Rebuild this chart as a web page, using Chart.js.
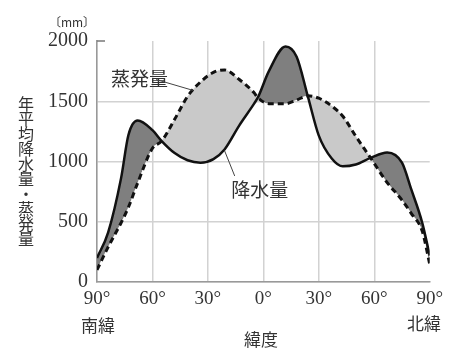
<!DOCTYPE html>
<html>
<head>
<meta charset="utf-8">
<script src="https://cdn.jsdelivr.net/npm/chart.js@4"></script>
<style>
  body { margin: 0; background: #fff; }
  #wrap { width: 449px; height: 349px; }
</style>
</head>
<body>
<div id="wrap"><canvas id="kikou"></canvas></div>
<script>
        // 緯度（南緯はマイナス）
        const latitudes = [-90, -84, -77, -73, -68, -60, -55, -48, -41, -34, -27, -21, -13, -5, -3,
                           3, 12, 18, 24, 30, 37, 43, 50, 58, 67, 75, 80, 86, 90];
        // 年平均降水量 (mm)
        const precipitation = [200, 410, 860, 1220, 1340, 1260, 1170, 1070, 1010, 990, 1020, 1100, 1300, 1480, 1530,
                               1750, 1955, 1870, 1545, 1215, 1025, 960, 975, 1030, 1075, 990, 770, 490, 220];
        // 年平均蒸発量 (mm)
        const evaporation = [100, 290, 490, 620, 822, 1110, 1170, 1350, 1540, 1660, 1740, 1760, 1680, 1570, 1530,
                             1480, 1480, 1510, 1545, 1525, 1460, 1375, 1210, 1030, 825, 680, 570, 420, 150];

        const xTickLabels = ['90°', '60°', '30°', '0°', '30°', '60°', '90°'];
        const yTitle = '年平均降水量・蒸発量';

        const ink = '#333';
        const gridColor = '#d2d2d2';

        const toPoints = (vals) => latitudes.map((lat, i) => ({ x: lat, y: vals[i] }));

        const data = {
            datasets: [{
                label: '降水量',
                data: toPoints(precipitation),
                borderColor: '#111',
                borderWidth: 2.5,
                pointRadius: 0,
                cubicInterpolationMode: 'monotone',
                fill: { target: 1, above: '#7f7f7f', below: '#c9c9c9' }
            }, {
                label: '蒸発量',
                data: toPoints(evaporation),
                borderColor: '#111',
                borderWidth: 3,
                borderDash: [6, 4],
                pointRadius: 0,
                cubicInterpolationMode: 'monotone',
                fill: false
            }]
        };

        // 文字・引き出し線など
        const extras = {
            id: 'extras',
            afterDraw(chart) {
                const ctx = chart.ctx;
                const xs = chart.scales.x, ys = chart.scales.y;
                const area = chart.chartArea;
                ctx.save();
                ctx.fillStyle = ink;
                ctx.strokeStyle = ink;
                ctx.textAlign = 'center';
                ctx.textBaseline = 'middle';

                // 縦書きの軸タイトル
                ctx.font = '16px "Noto Sans CJK JP"';
                [...yTitle].forEach((ch, i) => {
                    ctx.fillText(ch, 26, 104 + i * 15);
                });

                // 単位
                ctx.font = '12px "Noto Sans CJK JP"';
                ctx.fillText('〔mm〕', 72, 22);

                // 上端の目盛り
                ctx.lineWidth = 1.5;
                ctx.strokeStyle = '#777';
                ctx.beginPath();
                ctx.moveTo(area.left, ys.getPixelForValue(2000));
                ctx.lineTo(area.left + 8, ys.getPixelForValue(2000));
                ctx.stroke();

                // 南緯・北緯・緯度
                ctx.font = '17px "Noto Sans CJK JP"';
                ctx.fillText('南緯', 98, 326);
                ctx.fillText('北緯', 424, 324);
                ctx.fillText('緯度', 261, 340);

                // 曲線の名前
                ctx.font = '19px "Noto Sans CJK JP"';
                ctx.fillText('蒸発量', xs.getPixelForValue(-67), ys.getPixelForValue(1690));
                ctx.fillText('降水量', xs.getPixelForValue(-2), ys.getPixelForValue(765));

                ctx.strokeStyle = '#444';
                ctx.lineWidth = 1;
                ctx.beginPath();
                ctx.moveTo(xs.getPixelForValue(-58), ys.getPixelForValue(1680));
                ctx.lineTo(xs.getPixelForValue(-38), ys.getPixelForValue(1590));
                ctx.moveTo(xs.getPixelForValue(-21), ys.getPixelForValue(1090));
                ctx.lineTo(xs.getPixelForValue(-15.5), ys.getPixelForValue(880));
                ctx.stroke();
                ctx.restore();
            }
        };

        const config = {
            type: 'line',
            data: data,
            options: {
                responsive: true,
                maintainAspectRatio: false,
                animation: false,
                layout: { padding: { left: 0, right: 16, top: 41, bottom: 0 } },
                plugins: {
                    legend: { display: false },
                    tooltip: { enabled: false },
                    filler: { drawTime: 'beforeDatasetsDraw' }
                },
                scales: {
                    x: {
                        type: 'linear',
                        min: -90,
                        max: 90,
                        afterFit: (s) => { s.height = 67; },
                        ticks: {
                            stepSize: 30,
                            padding: 6,
                            color: ink,
                            font: { family: '"Liberation Serif"', size: 19 },
                            callback: (v) => xTickLabels[(v + 90) / 30]
                        },
                        grid: {
                            drawTicks: false,
                            lineWidth: 1.5,
                            color: (c) => (c.tick && c.tick.value === 90) ? 'rgba(0,0,0,0)' : gridColor
                        },
                        border: { color: '#999', width: 1.5 }
                    },
                    y: {
                        min: 0,
                        max: 2000,
                        afterFit: (s) => { s.width = 97; },
                        ticks: {
                            stepSize: 500,
                            padding: 9,
                            color: ink,
                            font: { family: '"Liberation Serif"', size: 20 },
                            callback: (v) => String(v)
                        },
                        grid: {
                            drawTicks: false,
                            lineWidth: 1.5,
                            color: (c) => (c.tick && c.tick.value === 2000) ? 'rgba(0,0,0,0)' : gridColor
                        },
                        border: { color: '#999', width: 1.5 }
                    }
                }
            },
            plugins: [extras]
        };

        const myChart = new Chart(
            document.getElementById('kikou'),
            config
        );
</script>
</body>
</html>
